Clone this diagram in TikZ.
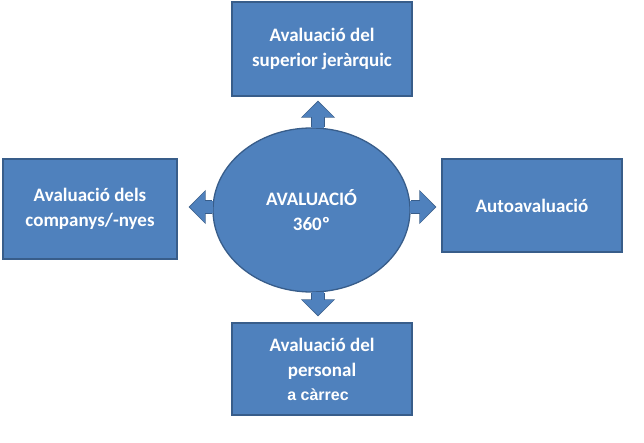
\documentclass[tikz,border=0pt]{standalone}
\usepackage{fontspec}
\setmainfont{Carlito}
\newfontfamily\arialfont{Liberation Sans}
\usetikzlibrary{arrows.meta}
\usetikzlibrary{shapes.geometric}

\definecolor{vakblauw}{RGB}{79,129,189}
\definecolor{randblauw}{RGB}{56,93,138}

\begin{document}
\begin{tikzpicture}[x=1pt,y=-1pt,
  vak/.style={draw=randblauw,fill=vakblauw,line width=1.3pt,inner sep=0pt,text=white,align=center,
    font=\bfseries\fontsize{19}{25}\selectfont},
  pijlrand/.style={line width=14pt,randblauw,-{Triangle[length=17pt,width=33pt]}},
  pijl/.style={line width=12pt,vakblauw,-{Triangle[length=15pt,width=30pt]}}]
\useasboundingbox (0,0) rectangle (644,443);

  \node[vak,minimum width=180pt,minimum height=94pt] (superior) at (322,49) {Avaluació del\\superior jeràrquic};
  \node[vak,minimum width=174pt,minimum height=100pt] (companys) at (90,209) {Avaluació dels\\companys/-nyes};
  \node[vak,minimum width=180pt,minimum height=93pt] (auto) at (532,205.5) {Autoavaluació};
  \node[vak,minimum width=180pt,minimum height=92pt] (personal) at (322,369)
    {Avaluació del\\personal\\[-1pt]\hspace*{-8pt}{\arialfont\fontsize{16}{20}\selectfont a càrrec}};

  \node[vak,ellipse,minimum width=197pt,minimum height=164pt] (aval) at (311.5,210) {AVALUACIÓ\\360º};

  \draw[pijlrand,shorten >=4pt] ([xshift=6.5pt]aval.north) -- ([xshift=-4pt]superior.south);
  \draw[pijl,shorten >=5.2pt] ([xshift=6.5pt,yshift=-1pt]aval.north) -- ([xshift=-4pt]superior.south);
  \draw[pijlrand,shorten >=6pt] ([xshift=6.5pt]aval.south) -- ([xshift=-4pt]personal.north);
  \draw[pijl,shorten >=7.2pt] ([xshift=6.5pt,yshift=1pt]aval.south) -- ([xshift=-4pt]personal.north);
  \draw[pijlrand,shorten >=11pt] ([yshift=3pt]aval.west) -- ([yshift=3pt]aval.west -| companys.east);
  \draw[pijl,shorten >=12.2pt] ([xshift=1pt,yshift=3pt]aval.west) -- ([yshift=3pt]aval.west -| companys.east);
  \draw[pijlrand,shorten >=5pt] ([yshift=3pt]aval.east) -- ([yshift=3pt]aval.east -| auto.west);
  \draw[pijl,shorten >=6.2pt] ([xshift=-1pt,yshift=3pt]aval.east) -- ([yshift=3pt]aval.east -| auto.west);

 \end{tikzpicture}
\end{document}
